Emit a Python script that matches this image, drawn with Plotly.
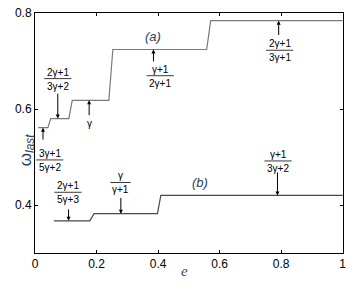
import plotly.graph_objects as go

# ---- data ----
a_edges = [0.01, 0.042, 0.051, 0.11, 0.121, 0.24, 0.253, 0.558, 0.571, 1.0]
a_levels = [0.561, 0.561, 0.580, 0.580, 0.618, 0.618, 0.724, 0.724, 0.784, 0.784]
b_edges = [0.061, 0.178, 0.192, 0.398, 0.409, 1.0]
b_levels = [0.367, 0.367, 0.382, 0.382, 0.420, 0.420]

x_ticks = [0, 0.2, 0.4, 0.6, 0.8, 1]
y_ticks = [0.4, 0.6, 0.8]

# fractions: (center e, bar value, numerator, denominator)
fractions = [
    (0.795, 0.7224, "2γ+1", "3γ+1"),
    (0.407, 0.6694, "γ+1", "2γ+1"),
    (0.074, 0.6633, "2γ+1", "3γ+2"),
    (0.048, 0.4939, "3γ+1", "5γ+2"),
    (0.107, 0.4265, "2γ+1", "5γ+3"),
    (0.278, 0.4469, "γ", "γ+1"),
    (0.790, 0.4918, "γ+1", "3γ+2"),
]
# arrows: (e, tail value, head value)
arrows = [
    (0.792, 0.751, 0.784),
    (0.385, 0.696, 0.724),
    (0.176, 0.584, 0.618),
    (0.074, 0.635, 0.580),
    (0.026, 0.533, 0.561),
    (0.109, 0.394, 0.367),
    (0.279, 0.418, 0.382),
    (0.788, 0.471, 0.420),
]

fig = go.Figure()
fig.add_trace(go.Scatter(x=a_edges, y=a_levels, mode="lines",
                         line=dict(color="#7a7a7a", width=1.2), showlegend=False))
fig.add_trace(go.Scatter(x=b_edges, y=b_levels, mode="lines",
                         line=dict(color="#4a4a4a", width=1.2), showlegend=False))

font = dict(family="Liberation Sans, Arial, sans-serif", size=10, color="black")

for (xc, yv, num, den) in fractions:
    fig.add_annotation(x=xc, y=yv, text=num, showarrow=False, font=font,
                       yanchor="bottom", yshift=-1)
    fig.add_annotation(x=xc, y=yv, text=den, showarrow=False, font=font,
                       yanchor="top", yshift=0)
    longest = max(len(num), len(den))
    w = 3.4 * longest
    fig.add_shape(type="line", xref="x", yref="y", xsizemode="pixel",
                  xanchor=xc, x0=-w, x1=w, y0=yv, y1=yv,
                  line=dict(color="#222222", width=0.9))

fig.add_annotation(x=0.176, y=0.569, text="γ", showarrow=False, font=font)

for (xe, tail, head) in arrows:
    fig.add_annotation(x=xe, y=head, ax=xe, ay=tail, axref="x", ayref="y",
                       text="", showarrow=True, arrowhead=2, arrowsize=0.8,
                       arrowwidth=1, arrowcolor="black", standoff=0)

fig.add_annotation(x=0.385, y=0.751, text="<i>(a)</i>", showarrow=False,
                   font=dict(family="Liberation Sans, Arial, sans-serif", size=13))
fig.add_annotation(x=0.535, y=0.447, text="<i>(b)</i>", showarrow=False,
                   font=dict(family="Liberation Sans, Arial, sans-serif", size=13))

fig.add_annotation(xref="paper", yref="paper", x=-0.07, y=0.43,
                   text="ω<sub><i>last</i></sub>", textangle=-90, showarrow=False,
                   font=dict(family="Liberation Sans, Arial, sans-serif", size=17))
fig.add_annotation(xref="paper", yref="paper", x=0.485, y=-0.075,
                   text="<i>e</i>", showarrow=False, yanchor="middle",
                   font=dict(family="Liberation Serif, serif", size=15))

axis_common = dict(showgrid=False, zeroline=False, showline=True, linecolor="black",
                   linewidth=1, mirror="ticks", ticks="inside", ticklen=3,
                   tickcolor="black",
                   tickfont=dict(family="Liberation Sans, Arial, sans-serif", size=12,
                                 color="black"))
fig.update_xaxes(range=[0, 1.001], tickvals=x_ticks,
                 ticktext=[("%g" % v) for v in x_ticks], **axis_common)
fig.update_yaxes(range=[0.3, 0.8], tickvals=y_ticks,
                 ticktext=[("%g" % v) for v in y_ticks], **axis_common)

fig.update_layout(width=352, height=287, margin=dict(l=35, r=6, t=9, b=34),
                  plot_bgcolor="white", paper_bgcolor="white")

fig.write_html("out.html", config={"displayModeBar": False},
               post_script="document.body.style.margin='0';document.body.style.padding='0';")
